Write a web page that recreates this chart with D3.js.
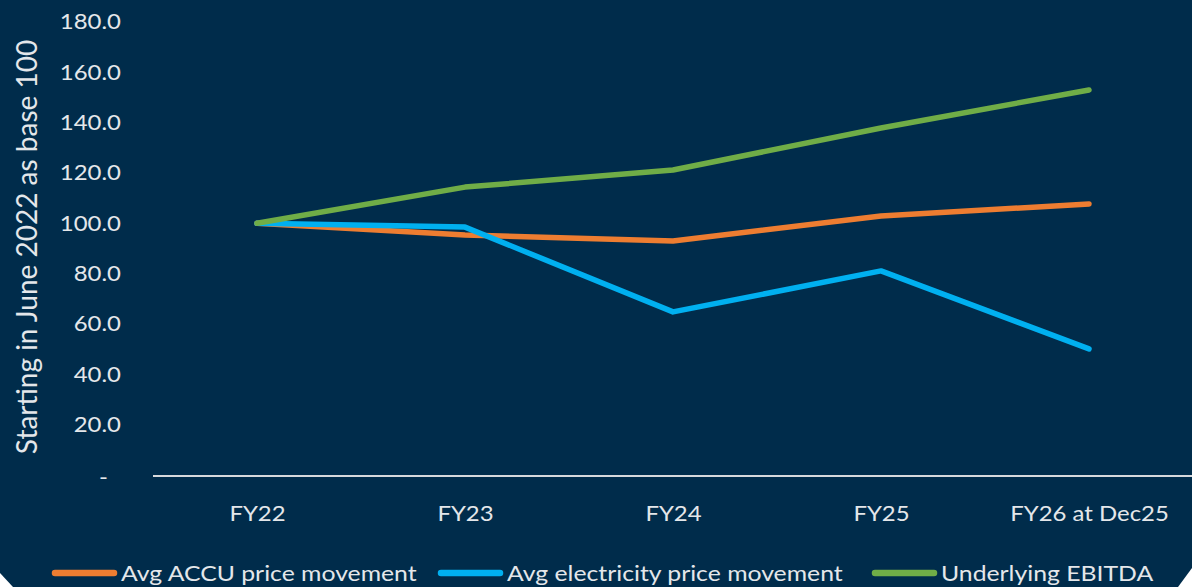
<!DOCTYPE html>
<html>
<head>
<meta charset="utf-8">
<script src="https://cdnjs.cloudflare.com/ajax/libs/d3/7.8.5/d3.min.js"></script>
<style>
  html, body { margin: 0; padding: 0; background: #ffffff; }
  svg { display: block; }
  text { font-family: Lato, "Open Sans", sans-serif; fill: #e4e7ea; }
</style>
</head>
<body>
<div id="chart"></div>
<script>
// chart data
var categories = ["FY22", "FY23", "FY24", "FY25", "FY26 at Dec25"];
var accuValues = [100.0, 95.4, 93.0, 102.9, 107.7];
var electricityValues = [100.0, 98.5, 64.8, 81.1, 50.1];
var ebitdaValues = [100.0, 114.4, 121.2, 137.9, 153.0];
var yTicks = [0, 20, 40, 60, 80, 100, 120, 140, 160, 180];
var seriesNames = ["Avg ACCU price movement", "Avg electricity price movement", "Underlying EBITDA"];

var width = 1192, height = 587;
var bg = "#002c4b";
var colors = ["#ed7d31", "#00b0f0", "#70ad47"];
var stretch = 1.14; // the original text is a bit wide
var fontSize = 21;

var svg = d3.select("#chart")
  .append("svg")
  .attr("width", width)
  .attr("height", height);

// navy panel with the two cut bottom corners
svg.append("polygon")
  .attr("points", "0,0 " + width + ",0 " + width + ",568 1178," + height + " 13," + height + " 0,573")
  .attr("fill", bg);

var x = d3.scalePoint()
  .domain(categories)
  .range([153, 1193])
  .padding(0.5);

var y = d3.scaleLinear()
  .domain([0, 180])
  .range([475, 22]);

// y axis, labels only
var yAxis = svg.append("g")
  .attr("transform", "translate(121,0)")
  .call(d3.axisLeft(y)
    .tickValues(yTicks)
    .tickSize(0)
    .tickPadding(0)
    .tickFormat(function(d) { return d === 0 ? "-" : d3.format(".1f")(d); }));
yAxis.select(".domain").remove();
yAxis.selectAll("text")
  .attr("x", null)
  .attr("dy", null)
  .attr("dominant-baseline", "central")
  .style("font-size", fontSize + "px")
  .style("font-family", null)
  .attr("fill", null)
  .attr("transform", function(d) {
    return d === 0 ? "translate(-13,2) scale(" + stretch + ",1)" : "translate(0,-1) scale(" + stretch + ",1)";
  });

// x axis
var xAxis = svg.append("g")
  .attr("transform", "translate(0,476)")
  .call(d3.axisBottom(x).tickSize(0).tickPadding(0));
xAxis.select(".domain")
  .attr("d", "M153,0H" + width)
  .attr("stroke", "#d6d9dc")
  .attr("stroke-width", 2);
xAxis.selectAll("text")
  .attr("y", null)
  .attr("dy", null)
  .attr("dominant-baseline", "central")
  .style("font-size", fontSize + "px")
  .style("font-family", null)
  .attr("fill", null)
  .attr("transform", "translate(0,37) scale(" + stretch + ",1)");

// y axis title
svg.append("text")
  .attr("transform", "translate(26,247) rotate(-90)")
  .attr("text-anchor", "middle")
  .attr("dominant-baseline", "central")
  .style("font-size", "28px")
  .text("Starting in June 2022 as base 100");

// lines
var line = d3.line()
  .x(function(d, i) { return x(categories[i]); })
  .y(function(d) { return y(d); });

var allSeries = [accuValues, electricityValues, ebitdaValues];
svg.selectAll(".series")
  .data(allSeries)
  .enter()
  .append("path")
  .attr("class", "series")
  .attr("d", line)
  .attr("fill", "none")
  .attr("stroke", function(d, i) { return colors[i]; })
  .attr("stroke-width", 5.5)
  .attr("stroke-linecap", "round")
  .attr("stroke-linejoin", "round");

// legend
var legendX = [52, 438, 872];
var legend = svg.selectAll(".legend")
  .data(seriesNames)
  .enter()
  .append("g")
  .attr("class", "legend")
  .attr("transform", function(d, i) { return "translate(" + legendX[i] + ",573)"; });
legend.append("line")
  .attr("x1", 3).attr("x2", 62)
  .attr("y1", 0).attr("y2", 0)
  .attr("stroke", function(d, i) { return colors[i]; })
  .attr("stroke-width", 6.5)
  .attr("stroke-linecap", "round");
legend.append("text")
  .attr("transform", "translate(69,0) scale(1.18,1)")
  .attr("dominant-baseline", "central")
  .style("font-size", fontSize + "px")
  .text(function(d) { return d; });
</script>
</body>
</html>
